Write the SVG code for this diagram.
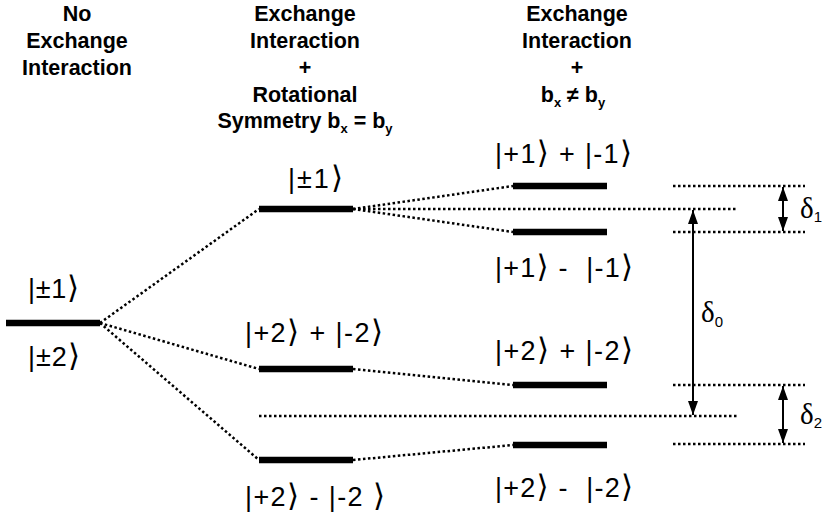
<svg xmlns="http://www.w3.org/2000/svg" width="826" height="520" viewBox="0 0 826 520">
<defs>
<style>
.title{font-family:"Liberation Sans","DejaVu Sans",sans-serif;font-weight:bold;font-size:21.5px;text-anchor:middle;fill:#000}
.ket{font-family:"Liberation Sans","DejaVu Sans",sans-serif;font-size:27px;fill:#000}
.b{font-family:"DejaVu Sans",sans-serif;font-size:31px}
.delta{font-family:"Liberation Serif","DejaVu Serif",serif;font-size:29px;fill:#000}
.sub{font-family:"Liberation Sans","DejaVu Sans",sans-serif;font-size:15px;fill:#000}
.level{stroke:#000;stroke-width:6.5;fill:none}
.dot{stroke:#000;stroke-width:2.5;stroke-dasharray:2.5 2.5;fill:none}
.arr{stroke:#000;stroke-width:2;fill:none}
</style>
<marker id="ah" viewBox="0 0 14 10" refX="14" refY="5" markerWidth="14" markerHeight="10" markerUnits="userSpaceOnUse" orient="auto-start-reverse">
<path d="M0,0 L14,5 L0,10 Z" fill="#000"/>
</marker>
</defs>
<rect width="826" height="520" fill="#fff"/>

<g id="titles">
<text class="title" x="77" y="21">No</text>
<text class="title" x="77" y="48">Exchange</text>
<text class="title" x="77" y="75">Interaction</text>
<text class="title" x="305" y="21">Exchange</text>
<text class="title" x="305" y="48">Interaction</text>
<text class="title" x="305" y="75">+</text>
<text class="title" x="305" y="102">Rotational</text>
<text class="title" x="305" y="128">Symmetry b<tspan font-size="13" dy="5">x</tspan><tspan dy="-5"> = b</tspan><tspan font-size="13" dy="5">y</tspan></text>
<text class="title" x="577" y="21">Exchange</text>
<text class="title" x="577" y="48">Interaction</text>
<text class="title" x="577" y="75">+</text>
<text class="title" x="573" y="102">b<tspan font-size="13" dy="5">x</tspan><tspan dy="-5"> ≠ b</tspan><tspan font-size="13" dy="5">y</tspan></text>
</g>

<g id="connectors">
<line class="dot" x1="100" y1="323" x2="259" y2="209"/>
<line class="dot" x1="100" y1="323" x2="259" y2="369"/>
<line class="dot" x1="100" y1="323" x2="259" y2="460"/>
<line class="dot" x1="353" y1="209" x2="513" y2="186"/>
<line class="dot" x1="353" y1="209" x2="513" y2="232"/>
<line class="dot" x1="353" y1="369" x2="513" y2="385"/>
<line class="dot" x1="353" y1="460" x2="513" y2="445"/>
<line class="dot" x1="353" y1="209" x2="738" y2="209"/>
<line class="dot" x1="259" y1="416" x2="738" y2="416"/>
<line class="dot" x1="673" y1="186" x2="805" y2="186"/>
<line class="dot" x1="673" y1="232" x2="805" y2="232"/>
<line class="dot" x1="673" y1="385" x2="805" y2="385"/>
<line class="dot" x1="673" y1="444" x2="805" y2="444"/>
<line class="arr" x1="693" y1="210" x2="693" y2="415" marker-start="url(#ah)" marker-end="url(#ah)"/>
<line class="arr" x1="783" y1="187" x2="783" y2="231" marker-start="url(#ah)" marker-end="url(#ah)"/>
<line class="arr" x1="783" y1="386" x2="783" y2="443" marker-start="url(#ah)" marker-end="url(#ah)"/>
</g>

<g id="level-0">
<line class="level" x1="6" y1="323" x2="100" y2="323"/>
<text class="ket" x="28" y="298" textLength="51" lengthAdjust="spacing">|±1<tspan class="b">⟩</tspan></text>
<text class="ket" x="28" y="366" textLength="52" lengthAdjust="spacing">|±2<tspan class="b">⟩</tspan></text>
</g>
<g id="level-mid-1">
<line class="level" x1="259" y1="209" x2="353" y2="209"/>
<text class="ket" x="288" y="188" textLength="55" lengthAdjust="spacing">|±1<tspan class="b">⟩</tspan></text>
</g>
<g id="level-mid-2p">
<line class="level" x1="259" y1="369" x2="353" y2="369"/>
<text class="ket" x="245" y="342" textLength="138" lengthAdjust="spacing">|+2<tspan class="b">⟩</tspan> + |-2<tspan class="b">⟩</tspan></text>
</g>
<g id="level-mid-2m">
<line class="level" x1="259" y1="460" x2="353" y2="460"/>
<text class="ket" x="245" y="506" textLength="140" lengthAdjust="spacing" xml:space="preserve">|+2<tspan class="b">⟩</tspan> - |-2 <tspan class="b">⟩</tspan></text>
</g>
<g id="level-r-1p">
<line class="level" x1="513" y1="186" x2="607" y2="186"/>
<text class="ket" x="495" y="163" textLength="137" lengthAdjust="spacing">|+1<tspan class="b">⟩</tspan> + |-1<tspan class="b">⟩</tspan></text>
</g>
<g id="level-r-1m">
<line class="level" x1="513" y1="232" x2="607" y2="232"/>
<text class="ket" x="495" y="277" textLength="138" lengthAdjust="spacing" xml:space="preserve">|+1<tspan class="b">⟩</tspan> -  |-1<tspan class="b">⟩</tspan></text>
</g>
<g id="level-r-2p">
<line class="level" x1="513" y1="385" x2="607" y2="385"/>
<text class="ket" x="495" y="360" textLength="138" lengthAdjust="spacing">|+2<tspan class="b">⟩</tspan> + |-2<tspan class="b">⟩</tspan></text>
</g>
<g id="level-r-2m">
<line class="level" x1="513" y1="445" x2="607" y2="445"/>
<text class="ket" x="495" y="497" textLength="138" lengthAdjust="spacing" xml:space="preserve">|+2<tspan class="b">⟩</tspan> -  |-2<tspan class="b">⟩</tspan></text>
</g>

<g id="labels-delta">
<text class="delta" x="701" y="322">δ<tspan class="sub" dy="5">0</tspan></text>
<text class="delta" x="800" y="218">δ<tspan class="sub" dy="4">1</tspan></text>
<text class="delta" x="800" y="424">δ<tspan class="sub" dy="4">2</tspan></text>
</g>
</svg>
